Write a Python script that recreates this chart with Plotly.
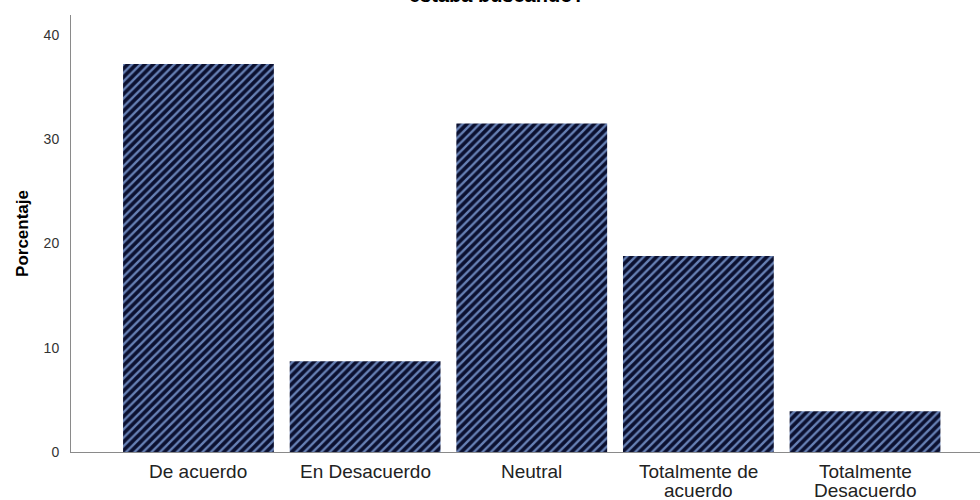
import plotly.graph_objects as go

# Response categories and their percentages
categorias = ["De acuerdo", "En Desacuerdo", "Neutral", "Totalmente de<br>acuerdo", "Totalmente<br>Desacuerdo"]
porcentajes = [37.2, 8.7, 31.5, 18.8, 3.9]
y_ticks = [0, 10, 20, 30, 40]

titulo = "estaba buscando?"
eje_y = "Porcentaje"

fig = go.Figure()
fig.add_trace(go.Bar(
    x=list(range(len(categorias))),
    y=porcentajes,
    width=0.905,
    marker=dict(
        color="#0b1030",
        line=dict(width=0),
        pattern=dict(shape="/", fgcolor="#6680b4", bgcolor="#0b1030",
                     size=6, solidity=0.4, fillmode="replace"),
    ),
    hoverinfo="skip",
))

# Category labels under each bar, one annotation per text line
anotaciones = []
for i, etiqueta in enumerate(categorias):
    for j, linea in enumerate(etiqueta.split("<br>")):
        anotaciones.append(dict(
            x=i, y=0, xref="x", yref="paper",
            text=linea, showarrow=False,
            xanchor="center", yanchor="top",
            yshift=-7 - 19 * j,
            font=dict(family="Liberation Sans, Arial", size=19, color="#222222"),
        ))

# Title line at the very top of the page
anotaciones.append(dict(
    x=(497 - 71) / 909, y=1, xref="paper", yref="paper",
    text="<b>" + titulo + "</b>", showarrow=False,
    xanchor="center", yanchor="bottom", yshift=7,
    font=dict(family="Liberation Sans, Arial", size=20, color="#000000"),
))

fig.update_layout(
    width=980, height=500,
    margin=dict(l=71, r=0, t=15, b=48),
    paper_bgcolor="white", plot_bgcolor="white",
    showlegend=False,
    annotations=anotaciones,
    xaxis=dict(
        range=[-0.765, 4.69],
        showticklabels=False, ticks="",
        showgrid=False, zeroline=False,
        showline=True, linecolor="#8a8a8a", linewidth=1,
    ),
    yaxis=dict(
        range=[0, 41.9],
        tickvals=y_ticks, ticktext=[str(v) for v in y_ticks],
        ticks="", ticklabelstandoff=8,
        tickfont=dict(family="Liberation Sans, Arial", size=14, color="#333333"),
        showgrid=False, zeroline=False,
        showline=True, linecolor="#8a8a8a", linewidth=1,
        title=dict(text="<b>" + eje_y + "</b>", standoff=10,
                   font=dict(family="Liberation Sans, Arial", size=17, color="#000000")),
    ),
)

fig.write_html("out.html")
